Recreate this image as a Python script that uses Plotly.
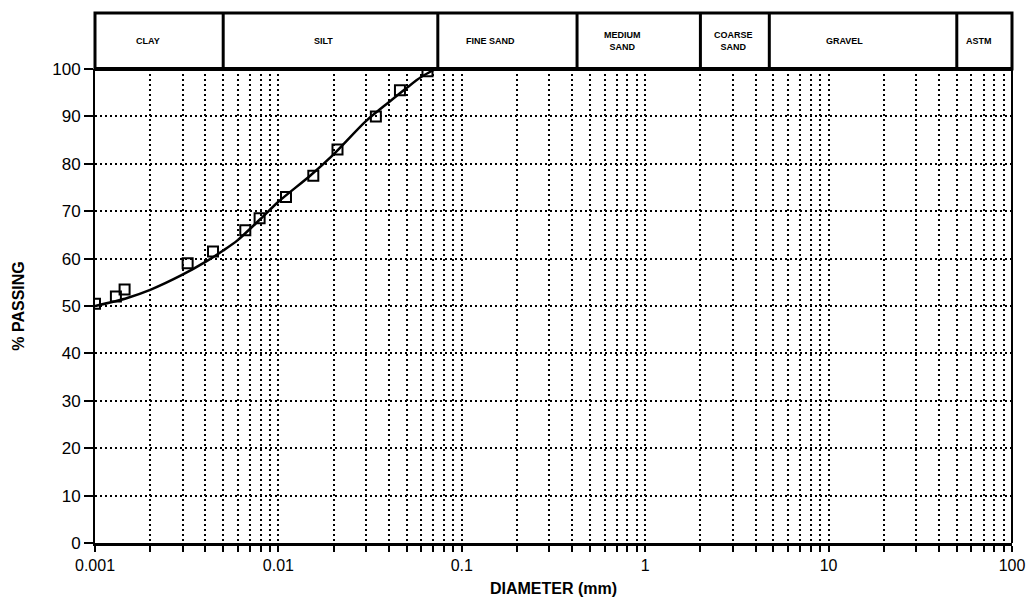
import math
import plotly.graph_objects as go

# Hydrometer / sieve results
diameter_mm = [0.001, 0.0013, 0.00145, 0.0032, 0.0044, 0.0066, 0.0079,
               0.011, 0.0155, 0.021, 0.034, 0.046, 0.065]
percent_passing = [50.5, 52, 53.5, 59, 61.5, 66, 68.5,
                   73, 77.5, 83, 90, 95.5, 99.5]

# Smoothed gradation curve
curve_diameter = [0.001, 0.0015, 0.002, 0.003, 0.004, 0.005, 0.006, 0.008,
                  0.01, 0.015, 0.02, 0.03, 0.04, 0.05, 0.06, 0.072]
curve_passing = [50, 51.7, 53.4, 56.6, 59.3, 61.7, 63.9, 68.4,
                 72, 77.6, 82, 89, 93, 96, 98.3, 100]

# Soil classification bands (mm)
class_bounds = [0.001, 0.005, 0.074, 0.425, 2.0, 4.75, 50, 100]
class_names = ["CLAY", "SILT", "FINE SAND", "MEDIUM<br>SAND",
               "COARSE<br>SAND", "GRAVEL", "ASTM"]

decade_vals = [0.001, 0.01, 0.1, 1, 10, 100]
decade_text = ["0.001", "0.01", "0.1", "1", "10", "100"]
pct_ticks = [0, 10, 20, 30, 40, 50, 60, 70, 80, 90, 100]

LOG_MIN, LOG_MAX = -3, 2
FONT = "Liberation Sans, Arial, sans-serif"


def xfrac(v):
    return (math.log10(v) - LOG_MIN) / (LOG_MAX - LOG_MIN)


# every 1..9 multiple in each decade gets a grid line / tick
grid_vals = []
for d in decade_vals[:-1]:
    for k in range(1, 10):
        grid_vals.append(d * k)
grid_vals.append(decade_vals[-1])
grid_text = [decade_text[decade_vals.index(v)] if v in decade_vals else ""
             for v in grid_vals]

fig = go.Figure()

fig.add_trace(go.Scatter(
    x=curve_diameter, y=curve_passing, mode="lines",
    line=dict(color="black", width=2.5, shape="spline", smoothing=0.8),
    hoverinfo="skip", showlegend=False,
))
fig.add_trace(go.Scatter(
    x=diameter_mm, y=percent_passing, mode="markers",
    marker=dict(symbol="square-open", size=10, color="black",
                line=dict(color="black", width=2)),
    showlegend=False,
))

plot_h = 543 - 69
head_top = 1 + 56 / plot_h

shapes = []
# header frame
shapes.append(dict(type="rect", xref="paper", yref="paper",
                   x0=0, x1=1, y0=1, y1=head_top,
                   line=dict(color="black", width=3), fillcolor="rgba(0,0,0,0)"))
for b in class_bounds[1:-1]:
    fx = xfrac(b)
    shapes.append(dict(type="line", xref="paper", yref="paper",
                       x0=fx, x1=fx, y0=1, y1=head_top,
                       line=dict(color="black", width=3)))
# plot frame
shapes.append(dict(type="line", xref="paper", yref="paper",
                   x0=0, x1=1, y0=1, y1=1, line=dict(color="black", width=4)))
shapes.append(dict(type="line", xref="paper", yref="paper",
                   x0=1, x1=1, y0=0, y1=1, line=dict(color="black", width=2)))

# labels sit slightly left of each band's centre
label_shift = [-0.012, -0.008, -0.018, -0.018, -0.002, -0.02, -0.006]
annotations = []
for i, name in enumerate(class_names):
    lo, hi = class_bounds[i], class_bounds[i + 1]
    mid = (xfrac(lo) + xfrac(hi)) / 2 + label_shift[i]
    annotations.append(dict(
        xref="paper", yref="paper", x=mid, y=(1 + head_top) / 2,
        text="<b>" + name + "</b>", showarrow=False,
        font=dict(family=FONT, size=9, color="black"),
        xanchor="center", yanchor="middle",
    ))

fig.update_layout(
    width=1030, height=602,
    margin=dict(l=95, r=18, t=69, b=59),
    paper_bgcolor="white", plot_bgcolor="white",
    shapes=shapes, annotations=annotations,
    font=dict(family=FONT, color="black"),
    xaxis=dict(
        type="log", range=[LOG_MIN, LOG_MAX], automargin=False,
        tickmode="array", tickvals=grid_vals, ticktext=grid_text,
        ticks="outside", ticklen=6, tickwidth=2, tickcolor="black",
        tickfont=dict(family=FONT, size=16, color="black"),
        showgrid=True, gridcolor="black", gridwidth=2, griddash="2px,3px",
        showline=True, linecolor="black", linewidth=3,
        zeroline=False,
        title=dict(text="<b>DIAMETER (mm)</b>", standoff=10,
                   font=dict(family=FONT, size=16, color="black")),
    ),
    yaxis=dict(
        range=[0, 100], tickmode="array", tickvals=pct_ticks, automargin=False,
        ticks="outside", ticklen=9, tickwidth=2, tickcolor="black",
        tickfont=dict(family=FONT, size=17, color="black"),
        showgrid=True, gridcolor="black", gridwidth=2, griddash="2px,3px",
        showline=True, linecolor="black", linewidth=2,
        zeroline=False,
        title=dict(text="<b>% PASSING</b>", standoff=24,
                   font=dict(family=FONT, size=16, color="black")),
    ),
)

fig.write_html("out.html")
